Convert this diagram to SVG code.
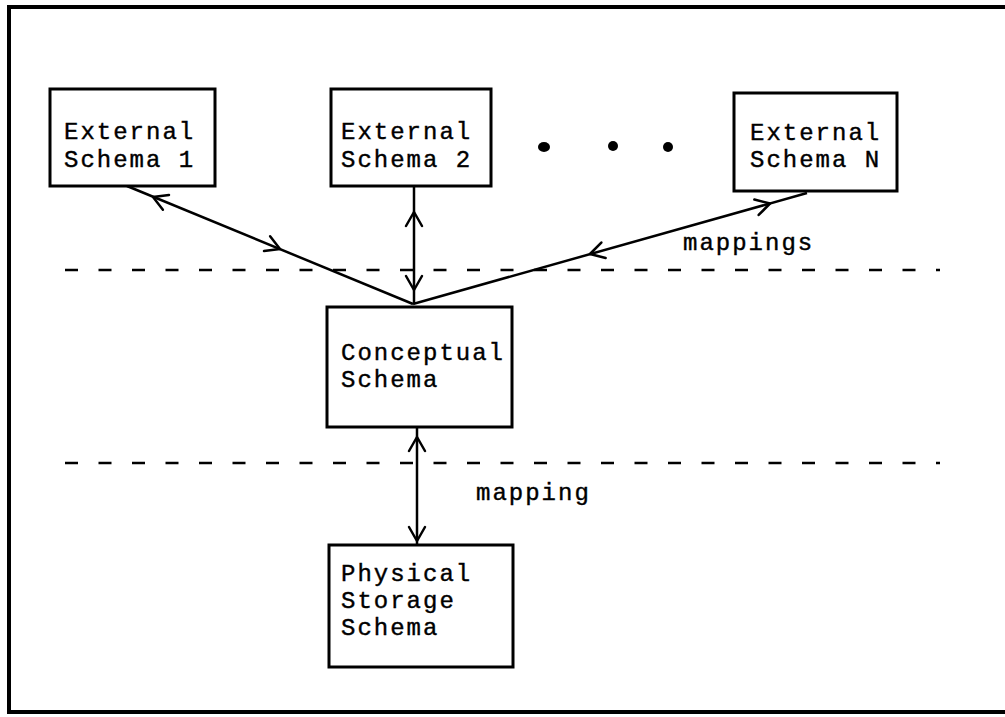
<svg xmlns="http://www.w3.org/2000/svg" xmlns:xlink="http://www.w3.org/1999/xlink" width="1005" height="717" viewBox="0 0 1005 717">
  <style>
    .frame { fill: none; stroke: #000; stroke-width: 4; }
    .box { fill: #fff; stroke: #000; stroke-width: 3; }
    .conn { fill: none; stroke: #000; stroke-width: 2.5; }
    .ah { fill: none; stroke: #000; stroke-width: 2.5; stroke-linecap: round; stroke-linejoin: round; }
    .level { fill: none; stroke: #000; stroke-width: 2.5; stroke-dasharray: 13 20.5; }
    .lbl { font-family: "Liberation Mono", "DejaVu Sans Mono", monospace; font-size: 24px; letter-spacing: 2px; fill: #000; stroke: #000; stroke-width: 0.4px; }
    .dot { fill: #000; }
  </style>
  <defs>
    <!-- open V arrowhead, tip at origin, pointing along +x -->
    <path id="ah" class="ah" d="M-14,-8 L0,0 L-14,8"/>
  </defs>

  <rect width="1005" height="717" fill="#fff"/>

  <!-- page frame (open on the right) -->
  <path class="frame" d="M1005,7 H9 V712 H1005"/>

  <!-- level separators -->
  <g id="levels">
    <line class="level" x1="65" y1="270" x2="940" y2="270"/>
    <line class="level" x1="65" y1="463" x2="940" y2="463"/>
  </g>

  <!-- connectors -->
  <g id="connectors">
    <line class="conn" x1="127" y1="186" x2="413" y2="304"/>
    <use xlink:href="#ah" transform="translate(153,197) rotate(202.4)"/>
    <use xlink:href="#ah" transform="translate(280,249) rotate(22.4)"/>

    <line class="conn" x1="414" y1="186" x2="414" y2="304"/>
    <use xlink:href="#ah" transform="translate(414,212) rotate(-90)"/>
    <use xlink:href="#ah" transform="translate(414,290) rotate(90)"/>

    <line class="conn" x1="807" y1="193" x2="413" y2="304"/>
    <use xlink:href="#ah" transform="translate(770,203.5) rotate(-15.7)"/>
    <use xlink:href="#ah" transform="translate(590,254) rotate(164.3)"/>

    <line class="conn" x1="417" y1="427" x2="417" y2="545"/>
    <use xlink:href="#ah" transform="translate(417,437) rotate(-90)"/>
    <use xlink:href="#ah" transform="translate(417,541) rotate(90)"/>
  </g>

  <g id="ext1">
    <rect class="box" x="50" y="89" width="165" height="97"/>
    <text class="lbl" x="64" y="139">External</text>
    <text class="lbl" x="64" y="167">Schema 1</text>
  </g>

  <g id="ext2">
    <rect class="box" x="331" y="89" width="160" height="97"/>
    <text class="lbl" x="341" y="139">External</text>
    <text class="lbl" x="341" y="167">Schema 2</text>
  </g>

  <g id="ellipsis">
    <ellipse class="dot" cx="544" cy="147" rx="6" ry="5"/>
    <ellipse class="dot" cx="613" cy="146" rx="5" ry="5"/>
    <ellipse class="dot" cx="668" cy="147" rx="5" ry="5"/>
  </g>

  <g id="extN">
    <rect class="box" x="734" y="93" width="163" height="98"/>
    <text class="lbl" x="750" y="140">External</text>
    <text class="lbl" x="750" y="167">Schema N</text>
  </g>

  <text class="lbl" x="683" y="250">mappings</text>

  <g id="conceptual">
    <rect class="box" x="327" y="307" width="185" height="120"/>
    <text class="lbl" x="341" y="360">Conceptual</text>
    <text class="lbl" x="341" y="387">Schema</text>
  </g>

  <text class="lbl" x="476" y="500">mapping</text>

  <g id="physical">
    <rect class="box" x="329" y="545" width="184" height="122"/>
    <text class="lbl" x="341" y="581">Physical</text>
    <text class="lbl" x="341" y="608">Storage</text>
    <text class="lbl" x="341" y="635">Schema</text>
  </g>
</svg>
